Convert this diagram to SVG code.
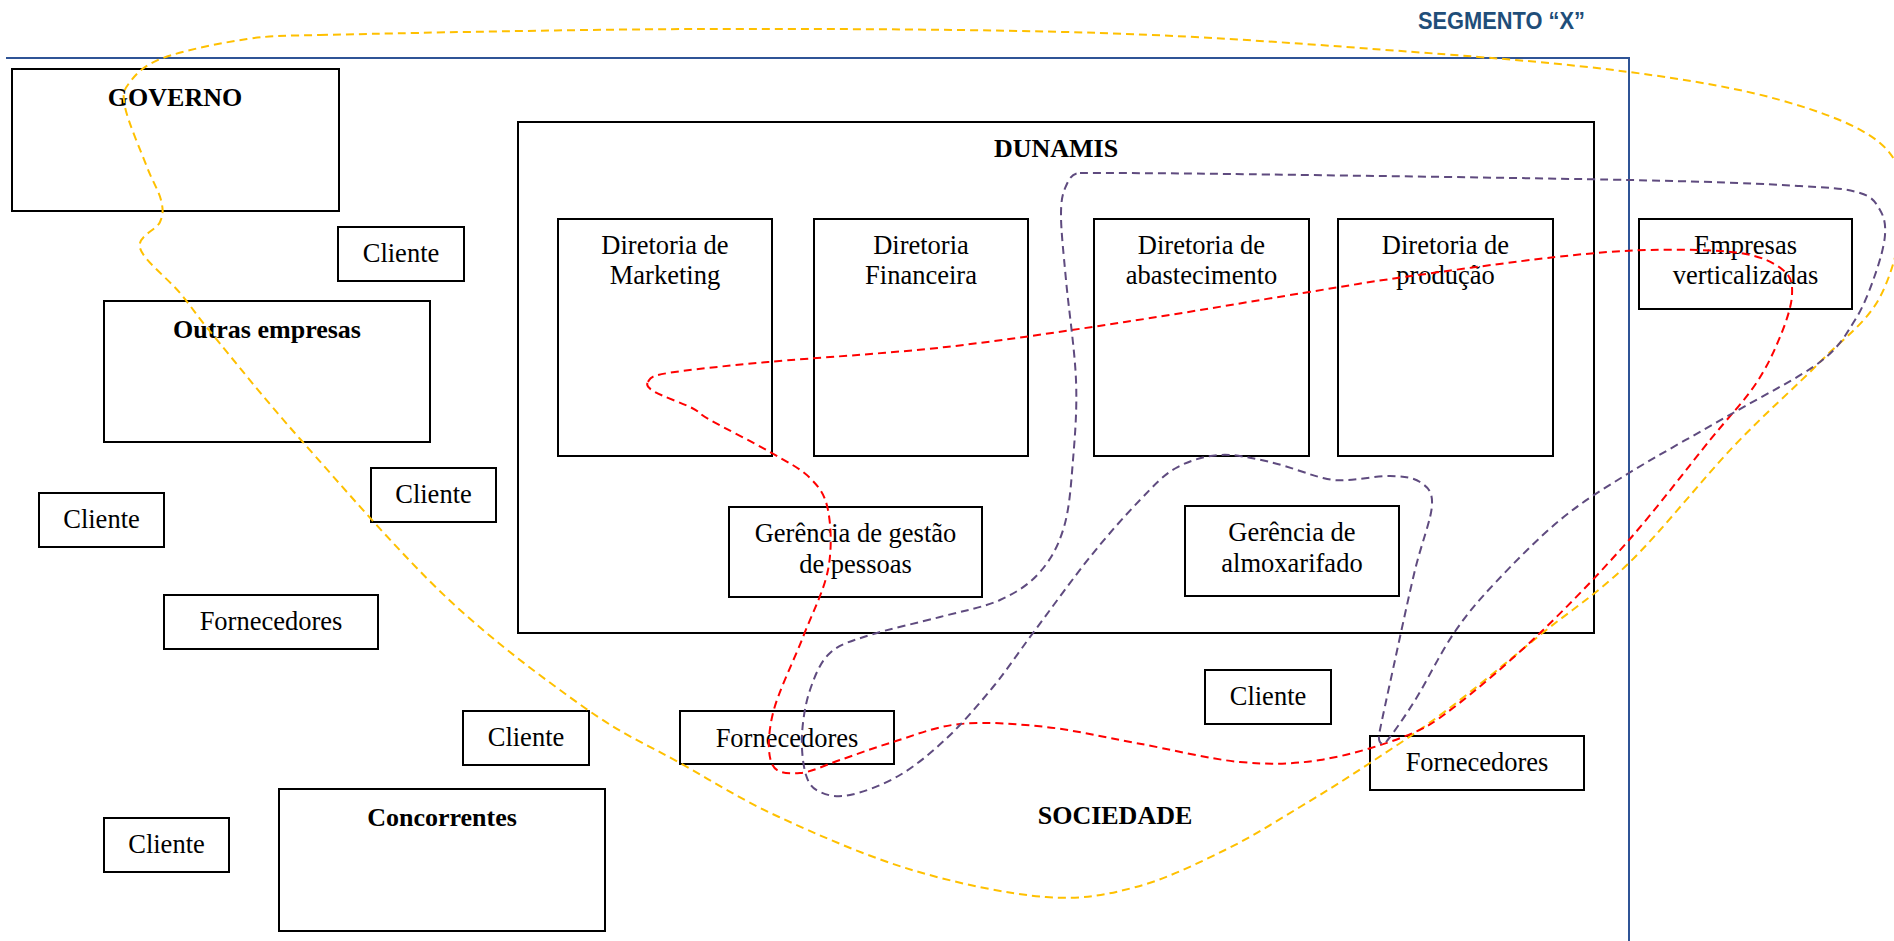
<svg xmlns="http://www.w3.org/2000/svg" width="1894" height="941" viewBox="0 0 1894 941">
<style>
.box{fill:#ffffff;stroke:#000000;stroke-width:2}
.t{font-family:"Liberation Serif","Times New Roman",serif;font-size:26.5px;fill:#000000;text-anchor:middle}
.b{font-family:"Liberation Serif","Times New Roman",serif;font-size:26px;font-weight:bold;fill:#000000;text-anchor:middle}
.seg{font-family:"Liberation Sans",Arial,sans-serif;font-size:23px;font-weight:bold;fill:#1F4E79}
.frame{fill:none;stroke:#2F5496;stroke-width:2}
.c{fill:none;stroke-width:2;stroke-dasharray:8 5}
.y{stroke:#FFC000}
.r{stroke:#FF0000}
.p{stroke:#5F4B7F}
</style>
<g id="segmento">
<path class="frame" d="M6,58 H1629 V941"/>
<text class="seg" x="1418" y="29" textLength="167" lengthAdjust="spacingAndGlyphs">SEGMENTO “X”</text>
</g>
<g id="governo"><rect class="box" x="12" y="69" width="327" height="142"/><text class="b" x="175" y="106">GOVERNO</text></g>
<g id="cliente1"><rect class="box" x="338" y="227" width="126" height="54"/><text class="t" x="401" y="262">Cliente</text></g>
<g id="outras-empresas"><rect class="box" x="104" y="301" width="326" height="141"/><text class="b" x="267" y="338">Outras empresas</text></g>
<g id="cliente2"><rect class="box" x="371" y="468" width="125" height="54"/><text class="t" x="433.5" y="503">Cliente</text></g>
<g id="cliente3"><rect class="box" x="39" y="493" width="125" height="54"/><text class="t" x="101.5" y="528">Cliente</text></g>
<g id="fornecedores1"><rect class="box" x="164" y="595" width="214" height="54"/><text class="t" x="271" y="630">Fornecedores</text></g>
<g id="cliente4"><rect class="box" x="463" y="711" width="126" height="54"/><text class="t" x="526" y="746">Cliente</text></g>
<g id="cliente5"><rect class="box" x="104" y="818" width="125" height="54"/><text class="t" x="166.5" y="853">Cliente</text></g>
<g id="concorrentes"><rect class="box" x="279" y="789" width="326" height="142"/><text class="b" x="442" y="826">Concorrentes</text></g>
<g id="dunamis"><rect class="box" x="518" y="122" width="1076" height="511"/><text class="b" x="1056" y="157">DUNAMIS</text></g>
<g id="dir-marketing"><rect class="box" x="558" y="219" width="214" height="237"/><text class="t" x="665" y="254">Diretoria de</text><text class="t" x="665" y="284">Marketing</text></g>
<g id="dir-financeira"><rect class="box" x="814" y="219" width="214" height="237"/><text class="t" x="921" y="254">Diretoria</text><text class="t" x="921" y="284">Financeira</text></g>
<g id="dir-abastecimento"><rect class="box" x="1094" y="219" width="215" height="237"/><text class="t" x="1201.5" y="254">Diretoria de</text><text class="t" x="1201.5" y="284">abastecimento</text></g>
<g id="dir-producao"><rect class="box" x="1338" y="219" width="215" height="237"/><text class="t" x="1445.5" y="254">Diretoria de</text><text class="t" x="1445.5" y="284">produção</text></g>
<g id="ger-pessoas"><rect class="box" x="729" y="507" width="253" height="90"/><text class="t" x="855.5" y="542">Gerência de gestão</text><text class="t" x="855.5" y="573">de pessoas</text></g>
<g id="ger-almoxarifado"><rect class="box" x="1185" y="506" width="214" height="90"/><text class="t" x="1292" y="541">Gerência de</text><text class="t" x="1292" y="572">almoxarifado</text></g>
<g id="fornecedores2"><rect class="box" x="680" y="711" width="214" height="53"/><text class="t" x="787" y="747">Fornecedores</text></g>
<g id="cliente6"><rect class="box" x="1205" y="670" width="126" height="54"/><text class="t" x="1268" y="705">Cliente</text></g>
<g id="fornecedores3"><rect class="box" x="1370" y="736" width="214" height="54"/><text class="t" x="1477" y="771">Fornecedores</text></g>
<g id="empresas-verticalizadas"><rect class="box" x="1639" y="219" width="213" height="90"/><text class="t" x="1745.5" y="254">Empresas</text><text class="t" x="1745.5" y="284">verticalizadas</text></g>
<g id="sociedade"><text class="b" x="1115" y="824">SOCIEDADE</text></g>
<g id="connectors">
<path class="c y" d="M320,35 C350,34.3 570,29.3 700,29 C830,28.7 981,29.2 1100,33 C1219,36.8 1325.8,45.5 1414,52 C1502.2,58.5 1568,64 1629,72 C1690,80 1738.2,88.2 1780,100 C1821.8,111.8 1859.5,125.5 1880,143 C1900.5,160.5 1903,179.3 1903,205 C1903,230.7 1893.8,270.8 1880,297 C1866.2,323.2 1844.5,337 1820,362 C1795.5,387 1764.8,413.5 1733,447 C1701.2,480.5 1661.2,531.7 1629,563 C1596.8,594.3 1570.3,610.5 1540,635 C1509.7,659.5 1475.3,688.7 1447,710 C1418.7,731.3 1394.5,746.8 1370,763 C1345.5,779.2 1324.2,792.5 1300,807 C1275.8,821.5 1252.3,836.7 1225,850 C1197.7,863.3 1165.8,879.2 1136,887 C1106.2,894.8 1083.3,899.8 1046,897 C1008.7,894.2 956.5,883.3 912,870 C867.5,856.7 817.7,834.8 779,817 C740.3,799.2 712.3,781.2 680,763 C647.7,744.8 624,735.7 585,708 C546,680.3 493.3,641.7 446,597 C398.7,552.3 339.8,483.7 301,440 C262.2,396.3 233.2,359.5 213,335 C192.8,310.5 192.2,307.5 180,293 C167.8,278.5 143.3,259.8 140,248 C136.7,236.2 156.5,230 160,222 C163.5,214 163.2,209.2 161,200 C158.8,190.8 153,182.5 147,167 C141,151.5 127.8,121.2 125,107 C122.2,92.8 123.7,90.2 130,82 C136.3,73.8 143.5,65.2 163,58 C182.5,50.8 220.8,42.8 247,39 C273.2,35.2 290,35.7 320,35 Z"/>
<path class="c r" d="M648,382 C650.2,378.8 648,376.3 668,373 C688,369.7 721.7,366.3 768,362 C814.3,357.7 886.5,353.7 946,347 C1005.5,340.3 1065.5,331 1125,322 C1184.5,313 1256.5,300.5 1303,293 C1349.5,285.5 1361.8,283 1404,277 C1446.2,271 1515,261.5 1556,257 C1597,252.5 1619.3,250.7 1650,250 C1680.7,249.3 1717.8,249.7 1740,253 C1762.2,256.3 1774.3,263 1783,270 C1791.7,277 1792.5,283.8 1792,295 C1791.5,306.2 1786.2,322 1780,337 C1773.8,352 1766.7,367.8 1755,385 C1743.3,402.2 1731,414.2 1710,440 C1689,465.8 1657.3,507.8 1629,540 C1600.7,572.2 1569.3,605 1540,633 C1510.7,661 1475.8,690.7 1453,708 C1430.2,725.3 1425.2,728.3 1403,737 C1380.8,745.7 1347.2,755.8 1320,760 C1292.8,764.2 1270.7,764.8 1240,762 C1209.3,759.2 1168.3,748.8 1136,743 C1103.7,737.2 1075.3,730.2 1046,727 C1016.7,723.8 985.5,721.5 960,724 C934.5,726.5 913,736 893,742 C873,748 855.5,754.8 840,760 C824.5,765.2 811.3,772.3 800,773 C788.7,773.7 776.5,774 772,764 C767.5,754 767.8,734.2 773,713 C778.2,691.8 793.8,660.8 803,637 C812.2,613.2 823.8,591.2 828,570 C832.2,548.8 831,525.3 828,510 C825,494.7 819.7,487.7 810,478 C800.3,468.3 786.7,461.7 770,452 C753.3,442.3 723,427.3 710,420 C697,412.7 701.2,412.7 692,408 C682.8,403.3 662.3,396.3 655,392 C647.7,387.7 645.8,385.2 648,382 Z"/>
<path class="c p" d="M1080,173 C1088,173 1138.5,172.8 1230,174 C1321.5,175.2 1534,178 1629,180 C1724,182 1761.5,183.8 1800,186 C1838.5,188.2 1846.7,189 1860,193 C1873.3,197 1875.8,203 1880,210 C1884.2,217 1885.8,224.2 1885,235 C1884.2,245.8 1880,260.8 1875,275 C1870,289.2 1864.2,305.5 1855,320 C1845.8,334.5 1840.3,346.5 1820,362 C1799.7,377.5 1764.8,394.5 1733,413 C1701.2,431.5 1657.8,455.2 1629,473 C1600.2,490.8 1582.3,501.7 1560,520 C1537.7,538.3 1512.7,564.2 1495,583 C1477.3,601.8 1467,614 1454,633 C1441,652 1427.2,680.3 1417,697 C1406.8,713.7 1398.7,725.2 1393,733 C1387.3,740.8 1385.3,743.7 1383,744 C1380.7,744.3 1378.3,740 1379,735 C1379.7,730 1389,687.5 1395,660 C1401,632.5 1408.8,595.8 1415,570 C1421.2,544.2 1431.2,519.7 1432,505 C1432.8,490.3 1427,486.8 1420,482 C1413,477.2 1402,476.3 1390,476 C1378,475.7 1359.2,479.7 1348,480 C1336.8,480.3 1336,481 1323,478 C1310,475 1287.2,465.8 1270,462 C1252.8,458.2 1235.7,454 1220,455 C1204.3,456 1189.3,460.5 1176,468 C1162.7,475.5 1154.3,485.2 1140,500 C1125.7,514.8 1107.8,534.8 1090,557 C1072.2,579.2 1049.2,611.3 1033,633 C1016.8,654.7 1007.2,669.7 993,687 C978.8,704.3 963.5,722.3 948,737 C932.5,751.7 916.3,765.3 900,775 C883.7,784.7 863.3,792.2 850,795 C836.7,797.8 827.3,795.3 820,792 C812.7,788.7 809,784.5 806,775 C803,765.5 801.3,749.2 802,735 C802.7,720.8 805.3,703.7 810,690 C814.7,676.3 820,662.2 830,653 C840,643.8 851.7,641 870,635 C888.3,629 918.3,622.8 940,617 C961.7,611.2 983.3,607.5 1000,600 C1016.7,592.5 1029.3,584.2 1040,572 C1050.7,559.8 1058.5,545.7 1064,527 C1069.5,508.3 1071,484.5 1073,460 C1075,435.5 1077.2,410 1076,380 C1074.8,350 1068.5,307.5 1066,280 C1063.5,252.5 1061,230.7 1061,215 C1061,199.3 1062.8,193 1066,186 C1069.2,179 1072,173 1080,173 Z"/>
</g>
</svg>
